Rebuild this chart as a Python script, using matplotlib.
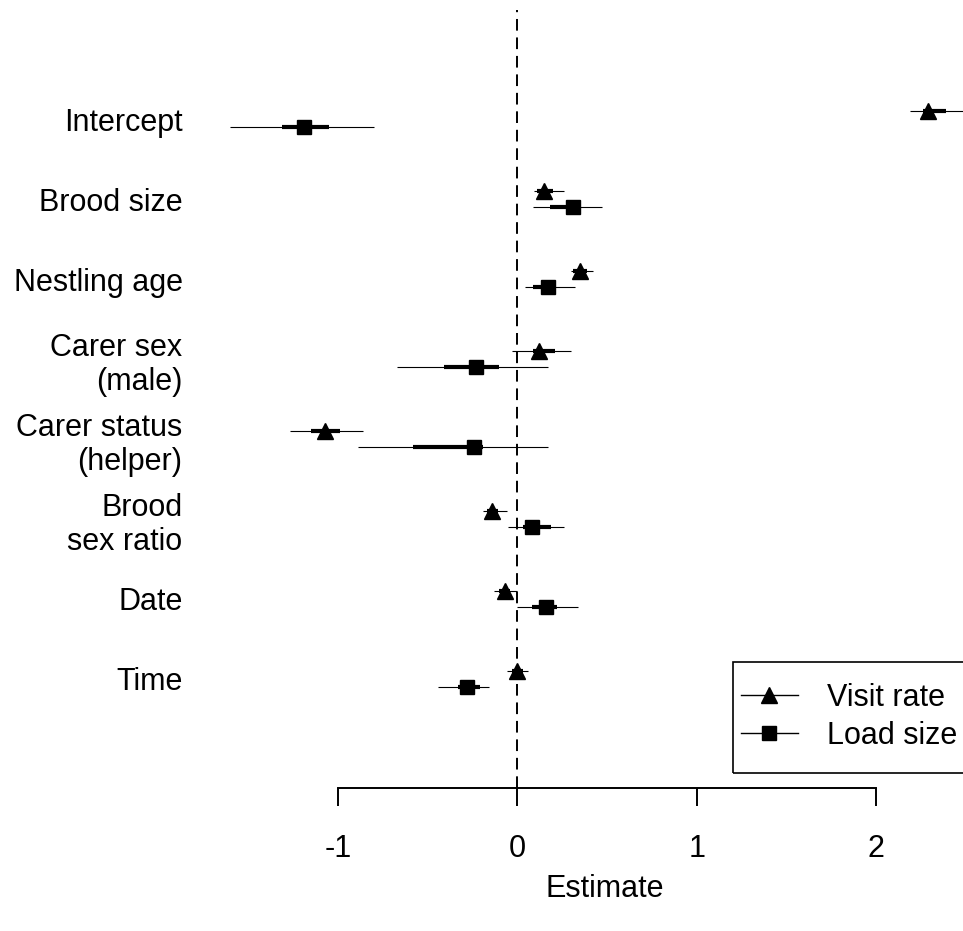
import matplotlib
matplotlib.use('Agg')
import matplotlib.pyplot as plt
from matplotlib.lines import Line2D
from matplotlib.patches import Rectangle
import numpy as np

plt.rcParams['font.family'] = ['Liberation Sans', 'DejaVu Sans']

terms = ['Intercept', 'Brood size', 'Nestling age', 'Carer sex\n(male)',
         'Carer status\n(helper)', 'Brood\nsex ratio', 'Date', 'Time']

# visit rate (triangles)
visit_est = [2.29, 0.15, 0.35, 0.12, -1.07, -0.14, -0.07, 0.00]
visit_lo95 = [2.19, 0.095, 0.30, -0.03, -1.27, -0.19, -0.13, -0.06]
visit_hi95 = [2.60, 0.26, 0.42, 0.30, -0.86, -0.06, 0.00, 0.06]
visit_lo50 = [2.26, 0.11, 0.31, 0.09, -1.15, -0.17, -0.10, -0.03]
visit_hi50 = [2.39, 0.20, 0.39, 0.21, -0.99, -0.11, -0.04, 0.03]

# load size (squares)
load_est = [-1.19, 0.31, 0.17, -0.23, -0.24, 0.08, 0.16, -0.28]
load_lo95 = [-1.60, 0.085, 0.04, -0.67, -0.89, -0.05, 0.00, -0.44]
load_hi95 = [-0.80, 0.47, 0.32, 0.17, 0.17, 0.26, 0.34, -0.16]
load_lo50 = [-1.31, 0.18, 0.09, -0.41, -0.58, 0.03, 0.08, -0.33]
load_hi50 = [-1.05, 0.35, 0.20, -0.10, -0.19, 0.19, 0.22, -0.21]

fs = 22
W, H = 963, 931
fig = plt.figure(figsize=(W / 100, H / 100), dpi=100)
# axes in pixel terms: left 195, right 963, top 10, bottom 788
ax = fig.add_axes([195 / W, (H - 788) / H, (963 - 195) / W, (788 - 10) / H])

ypos = np.arange(len(terms))[::-1] + 1.0
yv = ypos + 0.105
yl = ypos - 0.105

ax.axvline(0, color='black', lw=1.4, linestyle=(0, (6, 3.5)), zorder=1)

ax.hlines(yv, visit_lo95, visit_hi95, color='black', lw=0.8, zorder=2)
ax.hlines(yv, visit_lo50, visit_hi50, color='black', lw=3, zorder=2)
ax.plot(visit_est, yv, linestyle='none', marker='^', ms=12, color='black', zorder=3)

ax.hlines(yl, load_lo95, load_hi95, color='black', lw=0.8, zorder=2)
ax.hlines(yl, load_lo50, load_hi50, color='black', lw=3, zorder=2)
ax.plot(load_est, yl, linestyle='none', marker='s', ms=10, color='black', zorder=3)

ppu = (876 - 338) / 3.0
ax.set_xlim(-1 - (338 - 195) / ppu, 2 + (963 - 876) / ppu)
ax.set_ylim(-0.3625, 9.3625)

for s in ['top', 'right', 'left']:
    ax.spines[s].set_visible(False)
ax.spines['bottom'].set_bounds(-1, 2)
ax.spines['bottom'].set_linewidth(1.4)
ax.set_xticks([-1, 0, 1, 2])
ax.set_xticklabels(['-1', '0', '1', '2'])
ax.tick_params(axis='x', direction='out', length=13, width=1.4, pad=20, labelsize=fs)

ax.set_yticks(ypos)
ax.set_yticklabels(terms, linespacing=1.2)
ax.tick_params(axis='y', length=0, pad=9, labelsize=fs)

fig.text(605 / W, 1 - 889 / H, 'Estimate', ha='center', va='center', fontsize=fs)

# legend box (R style, runs off the right edge)
fig.patches.append(Rectangle((733 / W, 1 - 773 / H), (975 - 733) / W, (773 - 662) / H,
                             transform=fig.transFigure, fill=False,
                             edgecolor='black', lw=1.2))
handles = [Line2D([], [], color='black', lw=1, marker='^', ms=12),
           Line2D([], [], color='black', lw=1, marker='s', ms=10)]
fig.legend(handles, ['Visit rate', 'Load size'], loc='center left',
           bbox_to_anchor=(741 / W, 1 - 717 / H), fontsize=fs,
           frameon=False, handlelength=1.85, handletextpad=0.95,
           borderpad=0, labelspacing=0.25, borderaxespad=0)

fig.savefig('out.png', dpi=100)
